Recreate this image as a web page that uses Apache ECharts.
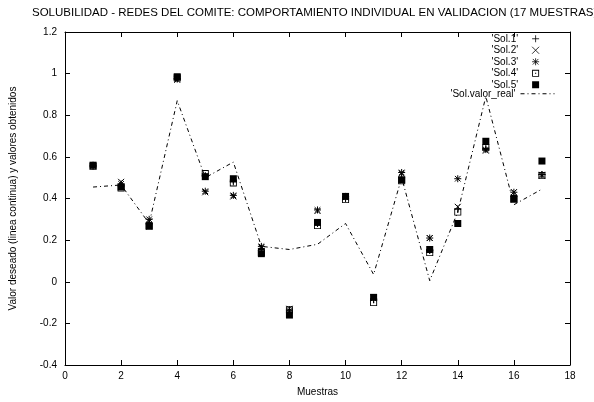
<!DOCTYPE html>
<html>
<head>
<meta charset="utf-8">
<script src="https://cdn.jsdelivr.net/npm/echarts@6/dist/echarts.min.js"></script>
<style>html,body{margin:0;padding:0;background:#fff}#c{width:594px;height:402px}</style>
</head>
<body>
<div id="c"></div>
<script>
const samples = [1,2,3,4,5,6,7,8,9,10,11,12,13,14,15,16,17];
const sol1 = [0.555,0.46,0.28,0.975,0.51,0.48,0.16,-0.135,0.28,0.40,-0.085,0.50,0.15,0.35,0.64,0.41,0.515];
const sol2 = [0.555,0.48,0.29,0.97,0.43,0.41,0.165,-0.13,0.34,0.405,-0.075,0.52,0.21,0.36,0.63,0.43,0.51];
const sol3 = [0.56,0.47,0.30,0.975,0.435,0.415,0.17,-0.14,0.345,0.41,-0.08,0.525,0.21,0.495,0.635,0.43,0.515];
const sol4 = [0.555,0.45,0.265,0.98,0.52,0.475,0.14,-0.135,0.27,0.395,-0.10,0.485,0.14,0.335,0.645,0.395,0.51];
const sol5 = [0.56,0.455,0.27,0.985,0.505,0.495,0.135,-0.16,0.285,0.41,-0.075,0.49,0.155,0.28,0.675,0.40,0.58];
const solReal = [0.455,0.465,0.28,0.87,0.50,0.575,0.17,0.155,0.18,0.28,0.035,0.50,0.005,0.335,0.89,0.37,0.445];
const names = ["'Sol.1'","'Sol.2'","'Sol.3'","'Sol.4'","'Sol.5'","'Sol.valor_real'"];
const titleText = 'SOLUBILIDAD - REDES DEL COMITE: COMPORTAMIENTO INDIVIDUAL EN VALIDACION (17 MUESTRAS)';

const FONT = 'Liberation Sans, Arial, sans-serif';
const pair = arr => samples.map((s,i)=>[s, arr[i]]);

const symPlus = 'path://M4,0L4,8M0,4L8,4';
const symCross = 'path://M0,0L8,8M0,8L8,0';
const symStar = 'path://M4,0L4,8M0,4L8,4M0.8,0.8L7.2,7.2M0.8,7.2L7.2,0.8';
const symBoxDot = 'path://M0,0L8,0L8,8L0,8ZM1,1L1,7L7,7L7,1ZM3.3,3.3L4.7,3.3L4.7,4.7L3.3,4.7Z';

function scat(name, data, symbol, size, filled) {
  return {
    name: name, type: 'scatter', data: pair(data), symbol: symbol, symbolSize: size,
    itemStyle: filled ? {color:'#000', borderWidth:0, opacity: 1} : {color:'rgba(0,0,0,0)', borderColor:'#000', borderWidth:1, opacity: 1},
    emphasis: {disabled: true}, z: 3
  };
}

const axisCommon = {
  axisLine: {show: true, onZero: false, lineStyle: {color:'#000', width:1}},
  axisTick: {show: true, inside: true, length: 5, lineStyle: {color:'#000'}},
  splitLine: {show: false}
};

const option = {
  animation: false,
  backgroundColor: '#fff',
  textStyle: {fontFamily: FONT},
  title: {
    text: titleText, left: 27, top: 2,
    textStyle: {fontSize: 11.5, fontWeight: 'normal', color: '#000', fontFamily: FONT}
  },
  grid: {left: 63, right: 24, top: 32, bottom: 33},
  legend: [
    {
      data: names.slice(0,5), orient: 'vertical', align: 'right',
      right: 49.5, top: 28, itemWidth: 7, itemHeight: 7, itemGap: 0,
      selectedMode: false,
      itemStyle: {borderWidth: 0.8},
      textStyle: {fontSize: 10, color:'#000', fontFamily: FONT, lineHeight: 11.5, width: 90, align: 'right', padding: [0,9,0,0]}
    },
    {
      data: [names[5]], orient: 'vertical', align: 'right',
      right: 34, top: 83, itemWidth: 34, itemHeight: 8, itemGap: 0, selectedMode: false,
      itemStyle: {opacity: 0},
      lineStyle: {color: '#000', width: 1, type: [4,3,1,3], opacity: 1},
      textStyle: {fontSize: 10, color:'#000', fontFamily: FONT, lineHeight: 11.5}
    }
  ],
  xAxis: [
    Object.assign({
      type: 'value', min: 0, max: 18, interval: 2, position: 'bottom',
      name: 'Muestras', nameLocation: 'middle', nameGap: 22,
      nameTextStyle: {fontSize: 10, color:'#000', fontFamily: FONT},
      axisLabel: {fontSize: 10, color:'#000', margin: 6, fontFamily: FONT}
    }, axisCommon),
    Object.assign({
      type: 'value', min: 0, max: 18, interval: 2, position: 'top',
      axisLabel: {show: false}
    }, axisCommon)
  ],
  yAxis: [
    Object.assign({
      type: 'value', min: -0.4, max: 1.2, interval: 0.2, position: 'left',
      name: 'Valor deseado (linea continua) y valores obtenidos', nameLocation: 'middle', nameGap: 47,
      nameTextStyle: {fontSize: 10, color:'#000', fontFamily: FONT},
      axisLabel: {fontSize: 10, color:'#000', margin: 8, fontFamily: FONT,
        formatter: v => String(Math.round(v*10)/10)}
    }, axisCommon),
    Object.assign({
      type: 'value', min: -0.4, max: 1.2, interval: 0.2, position: 'right',
      axisLabel: {show: false}
    }, axisCommon)
  ],
  series: [
    scat(names[0], sol1, symPlus, 7, false),
    scat(names[1], sol2, symCross, 6, false),
    scat(names[2], sol3, symStar, 7, false),
    scat(names[3], sol4, symBoxDot, 7, true),
    scat(names[4], sol5, 'rect', 7, true),
    {
      name: names[5], type: 'line', data: pair(solReal), symbol: 'none', showSymbol: false,
      lineStyle: {color:'#000', width: 1, type: [4,3,1,3]},
      itemStyle: {color:'#000'}, emphasis: {disabled: true}, z: 2
    }
  ]
};

const chart = echarts.init(document.getElementById('c'), null, {renderer: 'canvas'});
chart.setOption(option);
</script>
</body>
</html>
